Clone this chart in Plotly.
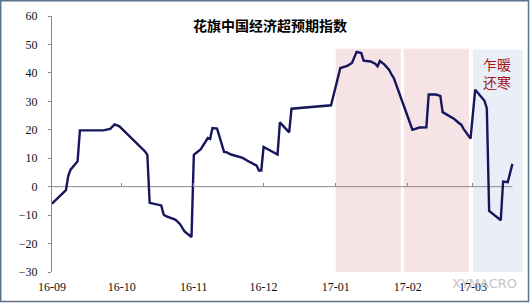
import plotly.graph_objects as go

# ---- data ----
dates = [
    "2016-09-01", "2016-09-07", "2016-09-08", "2016-09-09", "2016-09-12", "2016-09-13",
    "2016-09-23", "2016-09-26", "2016-09-28", "2016-09-30",
    "2016-10-11", "2016-10-12", "2016-10-13", "2016-10-15", "2016-10-18", "2016-10-19",
    "2016-10-20", "2016-10-24", "2016-10-26", "2016-10-28", "2016-10-31",
    "2016-11-01", "2016-11-04", "2016-11-07", "2016-11-08", "2016-11-09", "2016-11-11",
    "2016-11-14", "2016-11-15", "2016-11-17", "2016-11-22", "2016-11-25", "2016-11-28",
    "2016-11-29", "2016-11-30",
    "2016-12-01", "2016-12-07", "2016-12-08", "2016-12-12", "2016-12-13", "2016-12-19",
    "2016-12-28", "2016-12-30",
    "2017-01-03", "2017-01-06", "2017-01-08", "2017-01-09", "2017-01-10", "2017-01-12",
    "2017-01-13", "2017-01-16", "2017-01-18", "2017-01-19", "2017-01-20", "2017-01-22",
    "2017-01-24", "2017-01-25", "2017-01-26",
    "2017-02-03", "2017-02-06", "2017-02-09", "2017-02-10", "2017-02-13", "2017-02-15",
    "2017-02-16", "2017-02-18", "2017-02-21", "2017-02-23", "2017-02-24", "2017-02-25",
    "2017-02-28",
    "2017-03-02", "2017-03-04", "2017-03-06", "2017-03-07", "2017-03-08", "2017-03-13",
    "2017-03-14", "2017-03-16", "2017-03-18",
]
values = [
    -6.0, -1.2, 3.8, 6.0, 8.9, 19.8,
    19.8, 20.3, 21.9, 21.2,
    12.4, 11.2, -5.7, -6.1, -6.6, -9.8,
    -10.4, -11.6, -13.1, -15.7, -17.7,
    11.2, 13.2, 17.1, 16.8, 20.6, 20.4,
    12.2, 12.1, 11.3, 10.1, 8.7, 7.4,
    5.7, 5.7,
    14.0, 11.3, 22.6, 19.1, 27.4, 27.8,
    28.2, 28.6,
    41.7, 42.5, 43.5, 45.3, 47.4, 47.0,
    44.3, 44.0, 43.2, 42.3, 44.2, 42.9,
    41.0, 39.5, 38.2,
    20.0, 20.8, 20.9, 32.4, 32.4, 31.9,
    26.2, 25.2, 23.8, 22.4, 21.8, 20.3,
    16.9,
    34.1, 32.3, 30.2, 27.5, -8.5, -11.8,
    1.8, 1.6, 8.0,
]

tick_vals = ["2016-09-01", "2016-10-01", "2016-11-01", "2016-12-01",
             "2017-01-01", "2017-02-01", "2017-03-01"]
tick_text = ["16-09", "16-10", "16-11", "16-12", "17-01", "17-02", "17-03"]

y_ticks = [-30, -20, -10, 0, 10, 20, 30, 40, 50, 60]

# shaded periods: (start, end, top value, kind)
shade_start = ["2017-01-01", "2017-01-30 08:00", "2017-03-01"]
shade_end = ["2017-01-29", "2017-02-27 07:00", "2017-03-22 12:00"]
shade_top = [48.5, 48.5, 48.2]
shade_kind = ["pink", "pink", "blue"]

title_text = "花旗中国经济超预期指数"
note_text = "乍暖<br>还寒"
x_range = ["2016-09-01", "2017-03-23 10:00"]
axis_end = "2017-03-18"

# ---- figure ----
W, H = 530, 303
ml, mr, mt, mb = 52, 5, 16, 31
pw, ph = W - ml - mr, H - mt - mb

def px_x(p):
    return (p - ml) / pw

def px_y(p):
    return (H - mb - p) / ph

fig = go.Figure()

fill = {"pink": "rgb(246,227,229)", "blue": "rgb(234,239,247)"}
for s, e, t, k in zip(shade_start, shade_end, shade_top, shade_kind):
    fig.add_shape(type="rect", xref="x", yref="y", x0=s, x1=e, y0=-30, y1=t,
                  fillcolor=fill[k], line=dict(width=0), layer="below")

# zero line
fig.add_shape(type="line", xref="x", yref="y", x0=x_range[0], x1=axis_end, y0=0, y1=0,
              line=dict(color="#8a8a8a", width=1), layer="below")

fig.add_trace(go.Scatter(x=dates, y=values, mode="lines",
                         line=dict(color="#15165c", width=2.4),
                         hoverinfo="skip", showlegend=False))
# invisible trace for the tick-mark axis at zero
fig.add_trace(go.Scatter(x=dates, y=values, mode="lines", xaxis="x2",
                         line=dict(color="rgba(0,0,0,0)", width=0),
                         hoverinfo="skip", showlegend=False))

tick_font = dict(family="Liberation Serif", size=12, color="#111111")

fig.update_layout(
    width=W, height=H,
    margin=dict(l=ml, r=mr, t=mt, b=mb),
    paper_bgcolor="white", plot_bgcolor="rgba(0,0,0,0)",
    xaxis=dict(type="date", range=x_range, tickvals=tick_vals, ticktext=tick_text,
               showgrid=False, zeroline=False, showline=False, ticks="",
               tickfont=tick_font, ticklabelstandoff=6),
    xaxis2=dict(type="date", matches="x", overlaying="x", anchor="free",
                position=1/3, side="bottom", tickvals=tick_vals, ticktext=tick_text,
                showticklabels=False, showgrid=False, zeroline=False, showline=False,
                ticks="inside", ticklen=4, tickcolor="#8a8a8a", tickwidth=1),
    yaxis=dict(range=[-30, 60], tickvals=y_ticks, showgrid=False, zeroline=False,
               showline=True, linecolor="#8a8a8a", linewidth=1,
               ticks="outside", ticklen=3, tickcolor="#8a8a8a",
               tickfont=tick_font, ticklabelstandoff=8),
    showlegend=False,
)

fig.add_annotation(text="<b>" + title_text + "</b>", xref="paper", yref="paper",
                   x=px_x(270), y=px_y(25), showarrow=False,
                   xanchor="center", yanchor="middle",
                   font=dict(family="Noto Sans CJK SC", size=14, color="#000000"))
fig.add_annotation(text=note_text, xref="paper", yref="paper",
                   x=px_x(497), y=px_y(73), showarrow=False,
                   xanchor="center", yanchor="middle",
                   font=dict(family="Noto Sans CJK SC", size=14, color="#a3141c"))
fig.add_annotation(text="XYMACRO", xref="paper", yref="paper",
                   x=px_x(484), y=px_y(283), showarrow=False,
                   xanchor="center", yanchor="middle",
                   font=dict(family="DejaVu Sans", size=13, color="#c4c4c4"))

# outer frame of the picture
fig.add_shape(type="rect", xref="paper", yref="paper",
              x0=px_x(0.7), x1=px_x(528.5), y0=px_y(301.5), y1=px_y(0.7),
              line=dict(color="#5b728c", width=1.5), fillcolor="rgba(0,0,0,0)")

fig.write_html("out.html")
